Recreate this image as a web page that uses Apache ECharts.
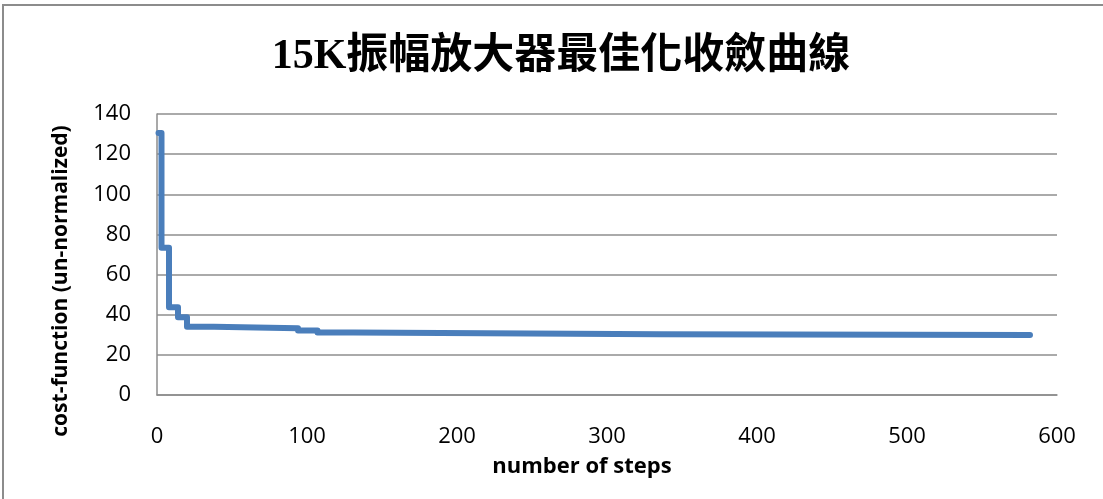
<!DOCTYPE html>
<html>
<head>
<meta charset="utf-8">
<script src="https://cdn.jsdelivr.net/npm/echarts@6/dist/echarts.min.js"></script>
<style>
  html, body { margin: 0; padding: 0; background: #fff; }
  #chart { width: 1103px; height: 499px; }
</style>
</head>
<body>
<div id="chart"></div>
<script>
// Step at which the cost value changes, and the value held from that step on
const changeSteps = [1, 3, 8, 14, 20, 38, 94, 107, 131, 335, 582];
const costValues  = [130.5, 73.4, 43.7, 38.7, 34.0, 33.3, 32.1, 31.1, 30.3, 29.9, 29.9];

const xTicks = { min: 0, max: 600, interval: 100 };
const yTicks = { min: 0, max: 140, interval: 20 };

const titleText = '15K振幅放大器最佳化收斂曲線';
const xName = 'number of steps';
const yName = 'cost-function (un-normalized)';

const points = changeSteps.map((s, i) => [s, costValues[i]]);

const chart = echarts.init(document.getElementById('chart'), null, { renderer: 'canvas' });

const labelFont = "'Open Sans', 'DejaVu Sans', sans-serif";

chart.setOption({
  animation: false,
  backgroundColor: '#ffffff',
  title: {
    text: titleText,
    left: 556,
    top: 31,
    textAlign: 'center',
    textStyle: {
      fontFamily: "'Liberation Serif', 'Noto Sans CJK TC', serif",
      fontSize: 42,
      fontWeight: 'bold',
      color: '#000'
    }
  },
  grid: { left: 157, right: 46, top: 114, bottom: 104 },
  xAxis: {
    type: 'value',
    min: xTicks.min, max: xTicks.max, interval: xTicks.interval,
    axisLine: { show: true, lineStyle: { color: '#8c8c8c', width: 1.5 } },
    axisTick: { show: false },
    splitLine: { show: false },
    axisLabel: { margin: 31, fontFamily: labelFont, fontSize: 22, color: '#000' }
  },
  yAxis: {
    type: 'value',
    min: yTicks.min, max: yTicks.max, interval: yTicks.interval,
    axisLine: { show: true, lineStyle: { color: '#8c8c8c', width: 1.5 } },
    axisTick: { show: false },
    splitLine: { show: true, lineStyle: { color: '#8e8e8e', width: 1.5 } },
    axisLabel: { margin: 26, fontFamily: labelFont, fontSize: 22, color: '#000' }
  },
  graphic: [
    {
      type: 'rect',
      silent: true,
      shape: { x: 3, y: 5, width: 1300, height: 700 },
      style: { fill: 'none', stroke: '#8c8c8c', lineWidth: 2 }
    },
    {
      type: 'text',
      x: 582, y: 467,
      style: {
        text: xName, fontFamily: labelFont, fontSize: 22, fontWeight: 'bold',
        fill: '#000', align: 'center', verticalAlign: 'middle'
      }
    },
    {
      type: 'text',
      x: 61, y: 281,
      rotation: Math.PI / 2,
      style: {
        text: yName, fontFamily: labelFont, fontSize: 21, fontWeight: 'bold',
        fill: '#000', align: 'center', verticalAlign: 'middle'
      }
    }
  ],
  series: [{
    type: 'line',
    step: 'end',
    data: points,
    symbol: 'none',
    lineStyle: { color: '#4a7ebb', width: 6, cap: 'round', join: 'round' }
  }]
});
</script>
</body>
</html>
